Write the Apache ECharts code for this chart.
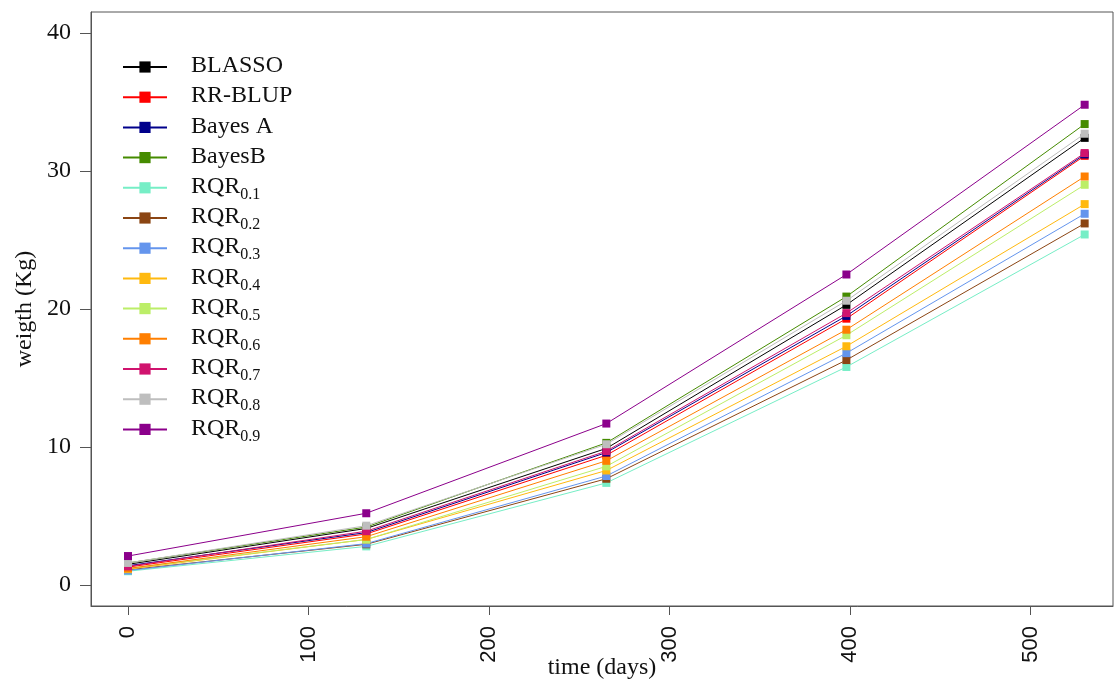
<!DOCTYPE html>
<html>
<head>
<meta charset="utf-8">
<script src="https://cdn.jsdelivr.net/npm/echarts@6/dist/echarts.min.js"></script>
<style>
  html, body { margin: 0; padding: 0; background: #ffffff; }
  #chart { width: 1115px; height: 687px; }
</style>
</head>
<body>
<div id="chart"></div>
<script>
// Measurement days (x values shared by every model)
const days = [0, 132, 265, 398, 530];

// Predicted weight (kg) per model at each measurement day
const BLASSO  = [1.5, 4.1, 9.9, 20.3, 32.4];
const RRBLUP  = [1.3, 3.7, 9.4, 19.3, 31.1];
const BayesA  = [1.4, 3.8, 9.6, 19.5, 31.2];
const BayesB  = [1.6, 4.2, 10.3, 20.9, 33.4];
const RQR01   = [1.0, 2.8, 7.4, 15.8, 25.4];
const RQR02   = [1.1, 2.95, 7.7, 16.3, 26.2];
const RQR03   = [1.05, 3.0, 7.9, 16.8, 26.9];
const RQR04   = [1.15, 3.3, 8.3, 17.3, 27.6];
const RQR05   = [1.2, 3.3, 8.6, 18.1, 29.0];
const RQR06   = [1.2, 3.5, 9.0, 18.5, 29.6];
const RQR07   = [1.35, 3.9, 9.7, 19.7, 31.3];
const RQR08   = [1.6, 4.3, 10.2, 20.6, 32.7];
const RQR09   = [2.1, 5.2, 11.7, 22.5, 34.8];

// Model names and their plotting colours (legend order = drawing order)
const modelNames = ['BLASSO', 'RR-BLUP', 'Bayes A', 'BayesB',
  'RQR0.1', 'RQR0.2', 'RQR0.3', 'RQR0.4', 'RQR0.5',
  'RQR0.6', 'RQR0.7', 'RQR0.8', 'RQR0.9'];
const modelValues = [BLASSO, RRBLUP, BayesA, BayesB,
  RQR01, RQR02, RQR03, RQR04, RQR05, RQR06, RQR07, RQR08, RQR09];
const modelColors = ['#000000', '#ff0000', '#00008b', '#458b00',
  '#76eec6', '#8b4513', '#6495ed', '#ffb90f', '#bcee68',
  '#ff7f00', '#d0136e', '#bebebe', '#8b008b'];

// Axis tick values
const xTicks = [0, 100, 200, 300, 400, 500];
const yTicks = [0, 10, 20, 30, 40];

const serif = '"Liberation Serif", "Times New Roman", serif';
const sans = '"Liberation Sans", Arial, sans-serif';

const series = modelNames.map((name, i) => ({
  name: name,
  type: 'line',
  data: days.map((d, k) => [d, modelValues[i][k]]),
  symbol: 'rect',
  symbolSize: 8,
  showSymbol: true,
  color: modelColors[i],
  lineStyle: { width: 1, color: modelColors[i] },
  itemStyle: { color: modelColors[i] },
  emphasis: { disabled: true },
  z: 2 + i
}));

// "RQR0.1" -> RQR with a subscripted quantile; other names keep an
// empty subscript slot so that every legend row has the same height
function legendLabel(name) {
  const m = name.match(/^RQR(\d\.\d)$/);
  if (m) return '{m|RQR}{s|' + m[1] + '}';
  return '{m|' + name + '}{s|\u00a0}';
}

const chart = echarts.init(document.getElementById('chart'), null, { renderer: 'canvas' });
chart.setOption({
  animation: false,
  backgroundColor: '#ffffff',
  grid: {
    left: 91, right: 2, top: 12, bottom: 81,
    show: true, borderColor: '#555555', borderWidth: 1,
    containLabel: false,
    outerBoundsMode: 'none'
  },
  legend: {
    left: 122,
    top: 54,
    padding: 0,
    orient: 'vertical',
    itemWidth: 44,
    itemHeight: 14,
    itemGap: 2.2,
    selectedMode: false,
    formatter: legendLabel,
    textStyle: {
      padding: [0, 0, 0, 19],
      rich: {
        m: { fontFamily: serif, fontSize: 24, color: '#111111', lineHeight: 26, verticalAlign: 'top' },
        s: { fontFamily: serif, fontSize: 16, color: '#111111', lineHeight: 16, padding: [12, 0, 0, 0], verticalAlign: 'top' }
      }
    }
  },
  xAxis: {
    type: 'value',
    min: -20.5,
    max: 545.7,
    name: 'time (days)',
    nameLocation: 'middle',
    nameGap: 50,
    nameMoveOverlap: false,
    nameTextStyle: { fontFamily: serif, fontSize: 24, color: '#111111' },
    axisLine: { show: true, onZero: false, lineStyle: { color: '#555555', width: 1 } },
    axisTick: { show: true, inside: false, length: 9, customValues: xTicks, lineStyle: { color: '#555555' } },
    axisLabel: {
      customValues: xTicks,
      rotate: 90,
      margin: 20,
      fontFamily: sans,
      fontSize: 22,
      color: '#111111'
    },
    splitLine: { show: false }
  },
  yAxis: {
    type: 'value',
    min: -1.52,
    max: 41.52,
    name: 'weigth (Kg)',
    nameLocation: 'middle',
    nameGap: 54,
    nameMoveOverlap: false,
    nameTextStyle: { fontFamily: serif, fontSize: 24, color: '#111111' },
    axisLine: { show: true, onZero: false, lineStyle: { color: '#555555', width: 1 } },
    axisTick: { show: true, inside: false, length: 11, customValues: yTicks, lineStyle: { color: '#555555' } },
    axisLabel: {
      customValues: yTicks,
      margin: 20,
      fontFamily: serif,
      fontSize: 24,
      color: '#111111'
    },
    splitLine: { show: false }
  },
  series: series
});
</script>
</body>
</html>
